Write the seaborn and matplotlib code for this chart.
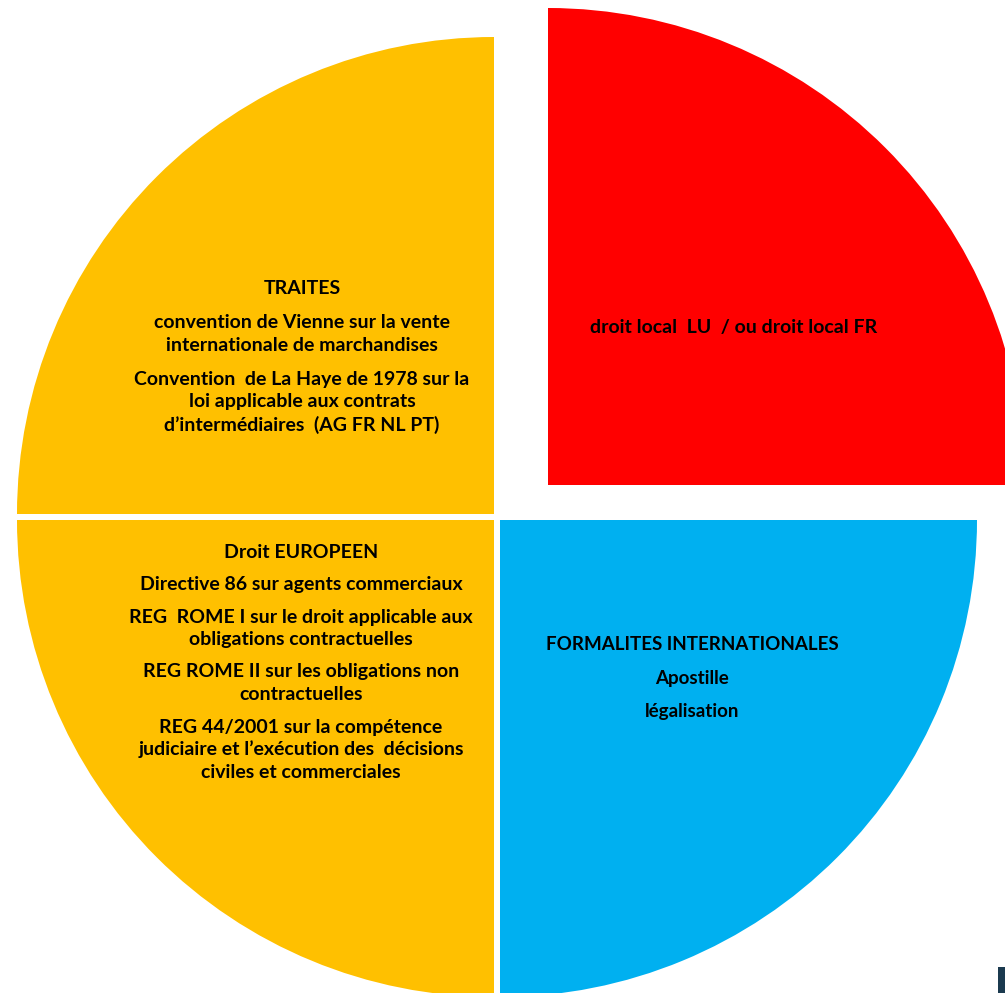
import matplotlib.pyplot as plt
import matplotlib.patches as mpatches
import seaborn as sns

# slices, counter-clockwise from 3 o'clock
labels = ["droit local", "TRAITES", "Droit EUROPEEN", "FORMALITES INTERNATIONALES"]
shares = [25, 25, 25, 25]
colors = ["#FF0000", "#FFC000", "#FFC000", "#00B0F0"]

# text blocks: list of paragraphs, each paragraph a list of lines
traites_text = [
    ["TRAITES"],
    ["convention de Vienne sur la vente", "internationale de marchandises"],
    ["Convention  de La Haye de 1978 sur la", "loi applicable aux contrats",
     "d\u2019intermédiaires  (AG FR NL PT)"],
]
europe_text = [
    ["Droit EUROPEEN"],
    ["Directive 86 sur agents commerciaux"],
    ["REG  ROME I sur le droit applicable aux", "obligations contractuelles"],
    ["REG ROME II sur les obligations non", "contractuelles"],
    ["REG 44/2001 sur la compétence", "judiciaire et l\u2019exécution des  décisions",
     "civiles et commerciales"],
]
formal_text = [
    ["FORMALITES INTERNATIONALES"],
    ["Apostille"],
    ["légalisation"],
]
local_text = [["droit local  LU  / ou droit local FR"]]

W, H = 1005, 993

sns.set_theme(style="white")
plt.rcParams["font.family"] = ["Lato", "DejaVu Sans"]

fig = plt.figure(figsize=(W / 100, H / 100), dpi=100)
ax = fig.add_axes([0, 0, 1, 1])

cx, cy, r = 497, H - 517, 477
wedges, _ = ax.pie(
    shares, colors=colors, startangle=0, counterclock=True,
    center=(cx, cy), radius=r, wedgeprops=dict(linewidth=0),
)
# small gaps between slices, the red one pulled out up and to the right
offsets = [(51, 32), (-3, 3), (-3, -3), (3, -3)]
for w, (dx, dy) in zip(wedges, offsets):
    w.set_center((cx + dx, cy + dy))

ax.set_xlim(0, W)
ax.set_ylim(0, H)
ax.set_aspect("equal")
ax.axis("off")


def draw_block(paras, x, y0, line_step=22.5, para_step=34, fs=14):
    y = y0
    for i, para in enumerate(paras):
        if i > 0:
            y += para_step
        for j, line in enumerate(para):
            if j > 0:
                y += line_step
            ax.text(x, H - y, line, ha="center", va="center", fontsize=fs,
                    fontweight="bold", color="black")


draw_block(traites_text, 302, 289)
draw_block(europe_text, 301, 552, para_step=32.5)
draw_block(formal_text, 692, 645, para_step=33.5, fs=13.5)
draw_block(local_text, 734, 328)

# small dark corner of slide artwork in the bottom-right
ax.add_patch(mpatches.Rectangle((998, 0), 7, 26, color="#1B3A4F", lw=0))

fig.savefig("out.png", dpi=100)
plt.close(fig)
